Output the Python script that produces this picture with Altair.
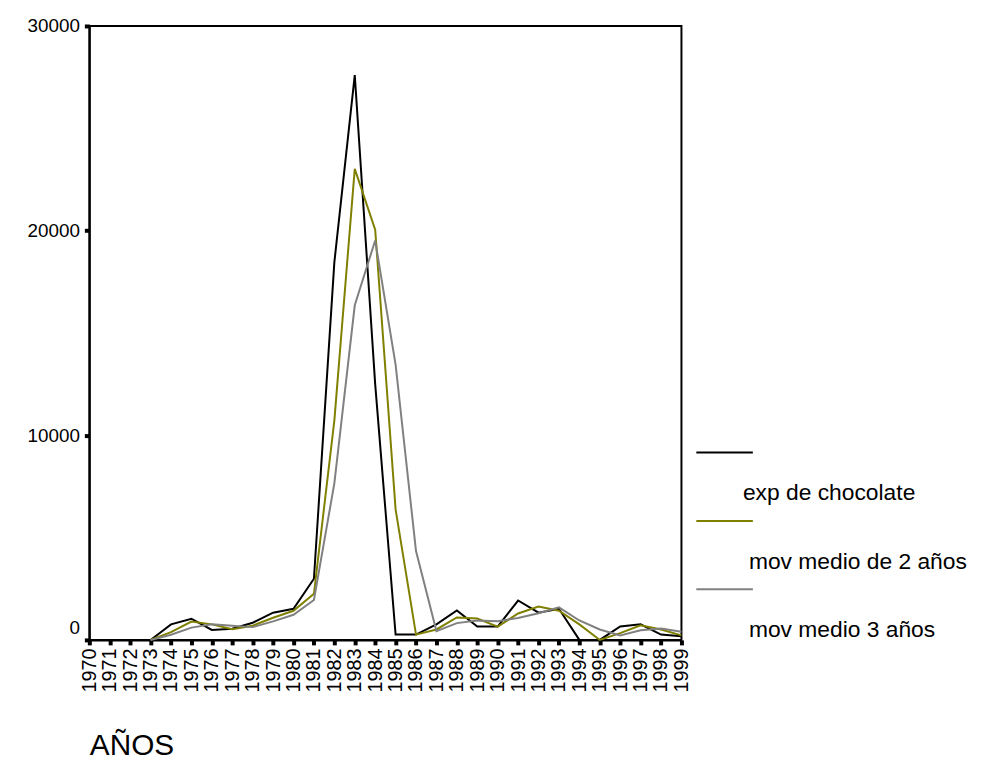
import altair as alt
import pandas as pd

# ---- data ----
anios = list(range(1970, 2000))

exp_chocolate = [None, None, None, 0, 760, 1035, 485, 550, 840, 1330,
                 1520, 2990, 18450, 27600, 12500, 260, 260, 760, 1440, 650,
                 650, 1925, 1330, 1520, 0, 0, 660, 760, 260, 180]

mov_medio_2 = [None, None, None, 0, 380, 900, 760, 520, 695, 1085,
               1425, 2255, 10720, 23020, 20050, 6380, 260, 510, 1100, 1045,
               650, 1290, 1630, 1425, 760, 0, 330, 710, 510, 220]

mov_medio_3 = [None, None, None, 0, 250, 600, 760, 690, 625, 905,
               1230, 1950, 7650, 16350, 19520, 13450, 4340, 430, 820, 950,
               910, 1075, 1300, 1590, 950, 510, 220, 475, 560, 400]

series = ["exp de chocolate", "mov medio de 2 años", "mov medio 3 años"]
colores = ["#000000", "#808000", "#808080"]
y_ticks = [0, 10000, 20000, 30000]

rows = []
for nombre, valores in zip(series, [exp_chocolate, mov_medio_2, mov_medio_3]):
    for a, v in zip(anios, valores):
        if v is not None:
            rows.append({"anio": a, "valor": v, "serie": nombre})
df = pd.DataFrame(rows)

leg_df = pd.DataFrame({"serie": series, "orden": [0, 1, 2]})

FONT = "Liberation Sans"
color_scale = alt.Scale(domain=series, range=colores)

lines = alt.Chart(df).mark_line(strokeWidth=2).encode(
    x=alt.X(
        "anio:Q",
        scale=alt.Scale(domain=[1970, 1999], nice=False, zero=False),
        axis=alt.Axis(
            values=anios, format="d", labelAngle=270, labelAlign="right",
            labelBaseline="middle", labelPadding=3, labelOverlap=False,
            labelFontSize=20,
            title="AÑOS", titleFontSize=30, titleFontWeight="normal",
            titleFont=FONT, titleX=0, titleY=116, titleAlign="left",
            titleBaseline="alphabetic", titleAnchor="start",
        ),
    ),
    y=alt.Y(
        "valor:Q",
        scale=alt.Scale(domain=[0, 30000], nice=False),
        axis=alt.Axis(
            values=y_ticks, format="d", title=None, labelPadding=5,
            labelFontSize=19,
            labelOffset={"condition": {"test": "datum.value === 0", "value": -12}, "value": 0},
        ),
    ),
    color=alt.Color("serie:N", scale=color_scale, legend=None),
)

leg_y = alt.Y("orden:Q", scale=alt.Scale(domain=[0, 2], range=[430, 568]), axis=None)

leg_rule = alt.Chart(leg_df).mark_rule(strokeWidth=2).encode(
    x=alt.value(612), x2=alt.value(669), y=leg_y,
    color=alt.Color("serie:N", scale=color_scale, legend=None),
)

leg_text_first = alt.Chart(leg_df).transform_filter(
    alt.datum.orden == 0
).mark_text(
    align="left", baseline="middle", dy=41, fontSize=23, font=FONT, color="black"
).encode(x=alt.value(659), y=leg_y, text="serie:N")

leg_text_rest = alt.Chart(leg_df).transform_filter(
    alt.datum.orden > 0
).mark_text(
    align="left", baseline="middle", dy=41, fontSize=23, font=FONT, color="black"
).encode(x=alt.value(665), y=leg_y, text="serie:N")

chart = (
    alt.layer(lines, leg_rule, leg_text_first, leg_text_rest)
    .resolve_scale(y="independent")
    .properties(
        width=597, height=619,
        autosize=alt.AutoSizeParams(type="none"),
        padding={"left": 82, "top": 15, "right": 299, "bottom": 124},
        background="white",
    )
    .configure_view(stroke="black", strokeWidth=2)
    .configure_axis(
        grid=False, domainColor="black", domainWidth=2,
        tickColor="black", tickSize=5, tickWidth=4,
        labelColor="black", labelFont=FONT,
    )
)

chart.save("out.html", embed_options={"renderer": "svg", "actions": False})
